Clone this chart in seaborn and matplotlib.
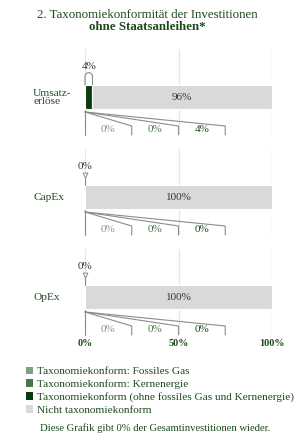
import matplotlib
matplotlib.use("Agg")
import matplotlib.pyplot as plt
import numpy as np
import seaborn as sns
from matplotlib.patches import Patch

# ---------------------------------------------------------------- data
categories = ["Umsatz-\nerlöse", "CapEx", "OpEx"]
taxo_total = [4, 0, 0]          # Taxonomiekonform insgesamt
not_taxo = [96, 100, 100]       # Nicht taxonomiekonform
gas_share = [0, 0, 0]           # Fossiles Gas
nuclear_share = [0, 0, 0]       # Kernenergie
other_share = [4, 0, 0]         # ohne fossiles Gas und Kernenergie
x_ticks = [0, 50, 100]
legend_labels = [
    "Taxonomiekonform: Fossiles Gas",
    "Taxonomiekonform: Kernenergie",
    "Taxonomiekonform (ohne fossiles Gas und Kernenergie)",
    "Nicht taxonomiekonform",
]
title_line1 = "2. Taxonomiekonformität der Investitionen"
title_line2 = "ohne Staatsanleihen*"
note = "Diese Grafik gibt 0% der Gesamtinvestitionen wieder."

# ---------------------------------------------------------------- style
sns.set_style("white")
plt.rcParams["font.family"] = ["Liberation Serif", "DejaVu Serif"]

GREEN_TXT = "#1d4a1d"
C_GAS = "#7f9f7f"
C_NUC = "#4a764a"
C_OTHER = "#0b3a0b"
C_NOT = "#d9d9d9"
LINE = "#8c8c8c"
VAL_TXT = "#2e3a2e"

W, H = 300, 441
fig = plt.figure(figsize=(W / 100, H / 100), dpi=100)

fig.text(147 / W, 1 - 15 / H, title_line1, ha="center", va="center",
         fontsize=9.3, color=GREEN_TXT)
fig.text(147 / W, 1 - 27 / H, title_line2, ha="center", va="center",
         fontsize=9.3, color=GREEN_TXT, fontweight="bold")

px = 30.0  # pixels per y data unit (bar height 0.8 -> 24 px)
centers = [97, 197, 297]
for i, cat in enumerate(categories):
    top, bot = centers[i] - 48, centers[i] + 38
    ax = fig.add_axes([85 / W, 1 - bot / H, 187 / W, (bot - top) / H])
    sns.barplot(x=[taxo_total[i]], y=[cat], color=C_OTHER, saturation=1,
                width=0.8, edgecolor="white", linewidth=0.8, ax=ax)
    sns.barplot(x=[not_taxo[i]], y=[cat], left=[taxo_total[i]], color=C_NOT,
                saturation=1, width=0.8, edgecolor="white", linewidth=0.8, ax=ax)
    ax.set_xlim(0, 100)
    ax.set_ylim(38 / px, -48 / px)
    ax.set_xticks(x_ticks)
    ax.grid(axis="x", color="#e6e6e6", lw=1)
    ax.set_axisbelow(True)
    sns.despine(ax=ax, left=True, bottom=True)
    ax.set_xlabel("")
    ax.set_ylabel("")
    ax.tick_params(axis="y", length=0, pad=37.4, labelsize=8.2, labelcolor=GREEN_TXT)
    for lab in ax.get_yticklabels():
        lab.set_ha("left")
        lab.set_linespacing(0.85)
    if i == len(categories) - 1:
        ax.set_xticklabels([f"{t}%" for t in x_ticks], fontweight="bold")
        ax.tick_params(axis="x", length=0, pad=3, labelsize=7.3, labelcolor=GREEN_TXT)
    else:
        ax.tick_params(axis="x", length=0, labelbottom=False)

    # value inside grey bar
    ax.text(taxo_total[i] + not_taxo[i] / 2, 0, f"{not_taxo[i]}%", ha="center",
            va="center", fontsize=8, color=VAL_TXT)

    # marker above bar for taxonomy-aligned share
    t = taxo_total[i]
    if t > 0:
        r = 3.6 / px
        th = np.linspace(np.pi, 0, 30)
        xs = np.concatenate([[0, 0], t / 2 + t / 2 * np.cos(th), [t, t]])
        ys = np.concatenate([[-0.4, -0.69], -0.69 - r * np.sin(th), [-0.69, -0.4]])
        ax.plot(xs, ys, color=LINE, lw=0.8, clip_on=False)
        ax.text(t / 2, -1.03, f"{t}%", ha="center", va="center",
                fontsize=8, color=VAL_TXT)
    else:
        ax.plot([0, 0], [-0.67, -0.4], color=LINE, lw=0.8, clip_on=False)
        ax.plot([0], [-0.74], marker="v", ms=3.5, mfc="white", mec=LINE,
                mew=0.7, clip_on=False)
        ax.text(0, -1.03, f"{t}%", ha="center", va="center",
                fontsize=8, color=VAL_TXT)

    # fan-out breakdown below bar
    y0, y1, y2 = 0.5, 0.967, 38 / px
    ax.plot([0, 0], [0.42, y2], color=LINE, lw=0.8, clip_on=False)
    for k, xe in enumerate([25, 50, 75]):
        ax.plot([0, xe, xe], [y0, y1, y2], color=LINE, lw=0.8, clip_on=False)
    shares = [gas_share[i], nuclear_share[i], other_share[i]]
    for k, (v, c) in enumerate(zip(shares, [C_GAS, C_NUC, GREEN_TXT])):
        ax.text(12.5 + 25 * k, 1.1, f"{v}%", ha="center", va="center",
                fontsize=8, color=c)

handles = [Patch(facecolor=c, edgecolor="none") for c in [C_GAS, C_NUC, C_OTHER, C_NOT]]
fig.legend(handles, legend_labels, loc="upper left",
           bbox_to_anchor=(21 / W, 1 - 362 / H), frameon=False, fontsize=8.1,
           handlelength=0.7, handleheight=0.7, handletextpad=0.35,
           labelspacing=0.26, borderaxespad=0, labelcolor=GREEN_TXT)

fig.text(155 / W, 1 - 428 / H, note, ha="center", va="center",
         fontsize=7.7, color=GREEN_TXT)

fig.savefig("out.png", dpi=100)
